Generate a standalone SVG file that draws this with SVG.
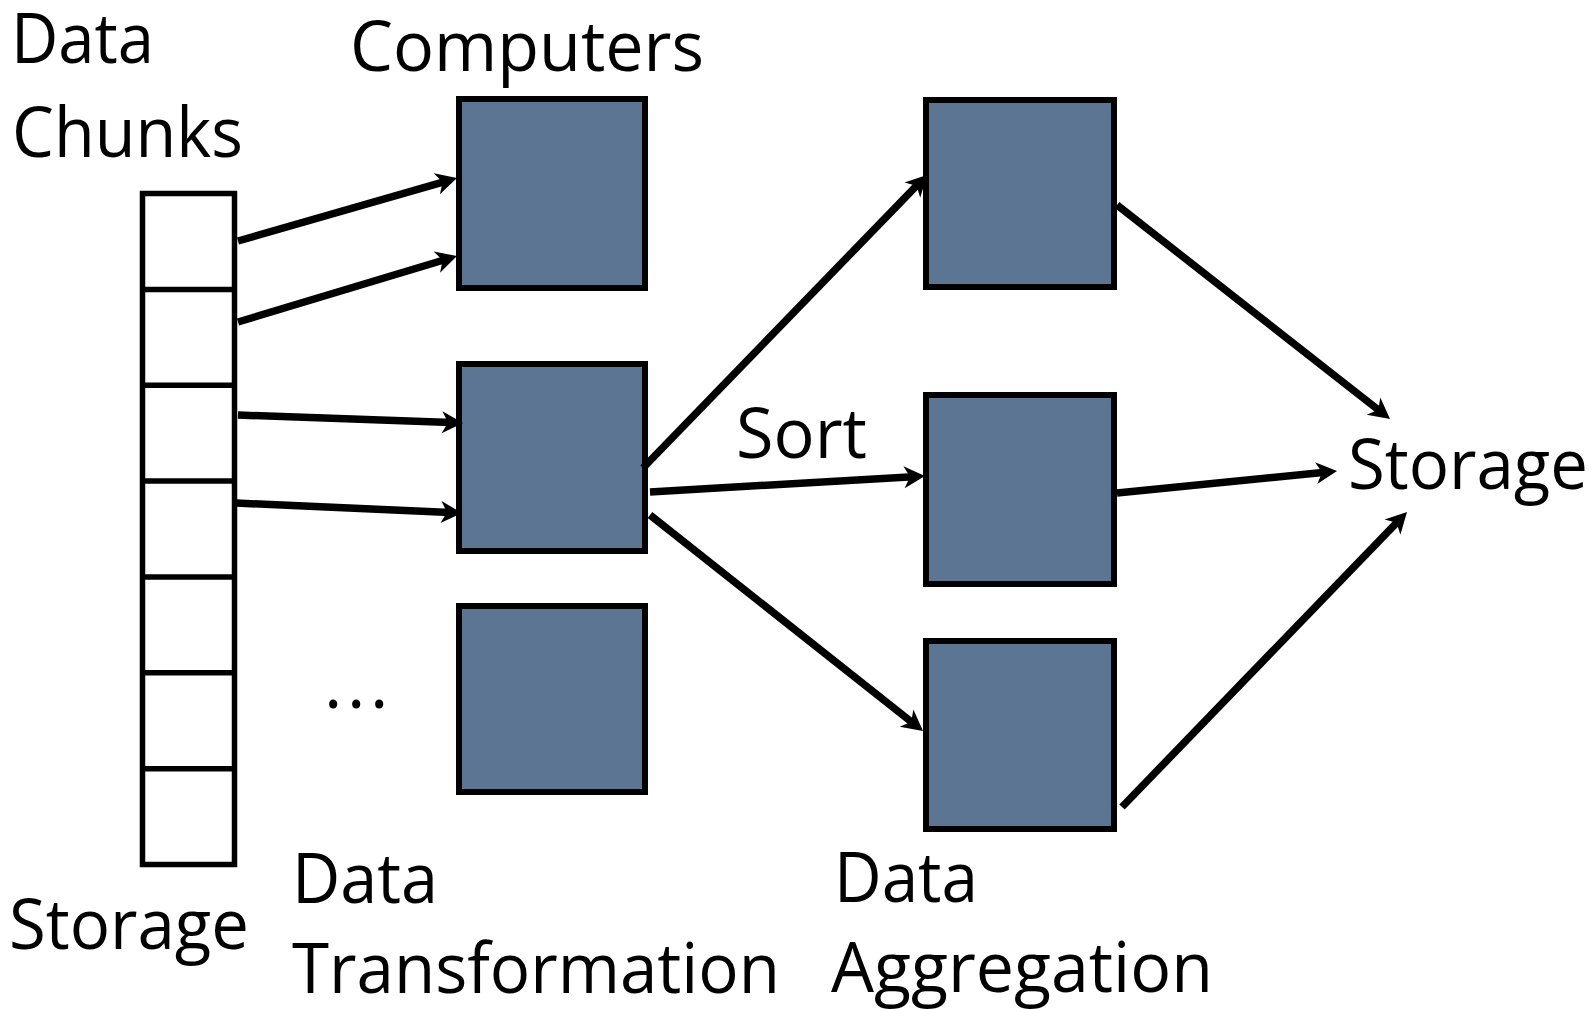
<svg xmlns="http://www.w3.org/2000/svg" width="1596" height="1009" viewBox="0 0 1596 1009">
  <style>
    .lbl { font-family: "Open Sans", "Liberation Sans", sans-serif; font-size: 70px; fill: #000; }
    .box { fill: #5c7593; stroke: #000; stroke-width: 6; }
    .cell { fill: #fff; stroke: #000; stroke-width: 5.5; }
    .conn { stroke: #000; stroke-width: 7.5; fill: none; marker-end: url(#arr); }
  </style>
  <defs>
    <marker id="arr" markerUnits="userSpaceOnUse" viewBox="-10 -12 24 24" refX="0" refY="0" markerWidth="24" markerHeight="24" orient="auto" overflow="visible">
      <path d="M12,0 L-9,-11 L-3,0 L-9,11 Z" fill="#000"/>
    </marker>
  </defs>
  <rect width="1596" height="1009" fill="#fff"/>

  <g id="storage-column">
    <rect class="cell" x="142.5" y="193.5" width="92" height="671"/>
    <line x1="142.5" y1="289.4" x2="234.5" y2="289.4" stroke="#000" stroke-width="5.5"/>
    <line x1="142.5" y1="385.2" x2="234.5" y2="385.2" stroke="#000" stroke-width="5.5"/>
    <line x1="142.5" y1="481.1" x2="234.5" y2="481.1" stroke="#000" stroke-width="5.5"/>
    <line x1="142.5" y1="576.9" x2="234.5" y2="576.9" stroke="#000" stroke-width="5.5"/>
    <line x1="142.5" y1="672.8" x2="234.5" y2="672.8" stroke="#000" stroke-width="5.5"/>
    <line x1="142.5" y1="768.7" x2="234.5" y2="768.7" stroke="#000" stroke-width="5.5"/>
  </g>

  <g id="computer-t1"><rect class="box" x="459" y="99" width="186" height="189"/></g>
  <g id="computer-t2"><rect class="box" x="459" y="364" width="186" height="187"/></g>
  <g id="computer-t3"><rect class="box" x="459" y="606" width="186" height="186"/></g>
  <g id="computer-a1"><rect class="box" x="926" y="100" width="188" height="187"/></g>
  <g id="computer-a2"><rect class="box" x="926" y="395" width="188" height="189"/></g>
  <g id="computer-a3"><rect class="box" x="926" y="641" width="188" height="188"/></g>

  <g id="connectors">
    <line class="conn" x1="238" y1="241" x2="445.5" y2="181.3"/>
    <line class="conn" x1="238" y1="322" x2="445.5" y2="259.5"/>
    <line class="conn" x1="238" y1="415" x2="451" y2="422.6"/>
    <line class="conn" x1="236" y1="503" x2="450" y2="512.5"/>
    <line class="conn" x1="643" y1="468" x2="918.6" y2="183.6"/>
    <line class="conn" x1="650" y1="492" x2="913" y2="476.7"/>
    <line class="conn" x1="650" y1="515" x2="913.6" y2="723.6"/>
    <line class="conn" x1="1117" y1="205" x2="1380.6" y2="411.6"/>
    <line class="conn" x1="1117" y1="493" x2="1325.1" y2="472.2"/>
    <line class="conn" x1="1122" y1="807" x2="1398.7" y2="520.6"/>
  </g>

  <g id="labels">
    <text class="lbl" x="11" y="63" textLength="143" lengthAdjust="spacingAndGlyphs">Data</text>
    <text class="lbl" x="12" y="157" textLength="231" lengthAdjust="spacingAndGlyphs">Chunks</text>
    <text class="lbl" x="350" y="71" textLength="354" lengthAdjust="spacingAndGlyphs">Computers</text>
    <text class="lbl" x="736" y="458" textLength="131" lengthAdjust="spacingAndGlyphs">Sort</text>
    <text class="lbl" x="1348" y="489" textLength="240" lengthAdjust="spacingAndGlyphs">Storage</text>
    <text class="lbl" x="9" y="949" textLength="240" lengthAdjust="spacingAndGlyphs">Storage</text>
    <text class="lbl" x="292" y="903" textLength="146" lengthAdjust="spacingAndGlyphs">Data</text>
    <text class="lbl" x="292" y="993" textLength="488" lengthAdjust="spacingAndGlyphs">Transformation</text>
    <text class="lbl" x="834" y="902" textLength="144" lengthAdjust="spacingAndGlyphs">Data</text>
    <text class="lbl" x="831" y="992" textLength="382" lengthAdjust="spacingAndGlyphs">Aggregation</text>
    <text class="lbl" x="324" y="708" textLength="64.5" lengthAdjust="spacing">...</text>
  </g>
</svg>
